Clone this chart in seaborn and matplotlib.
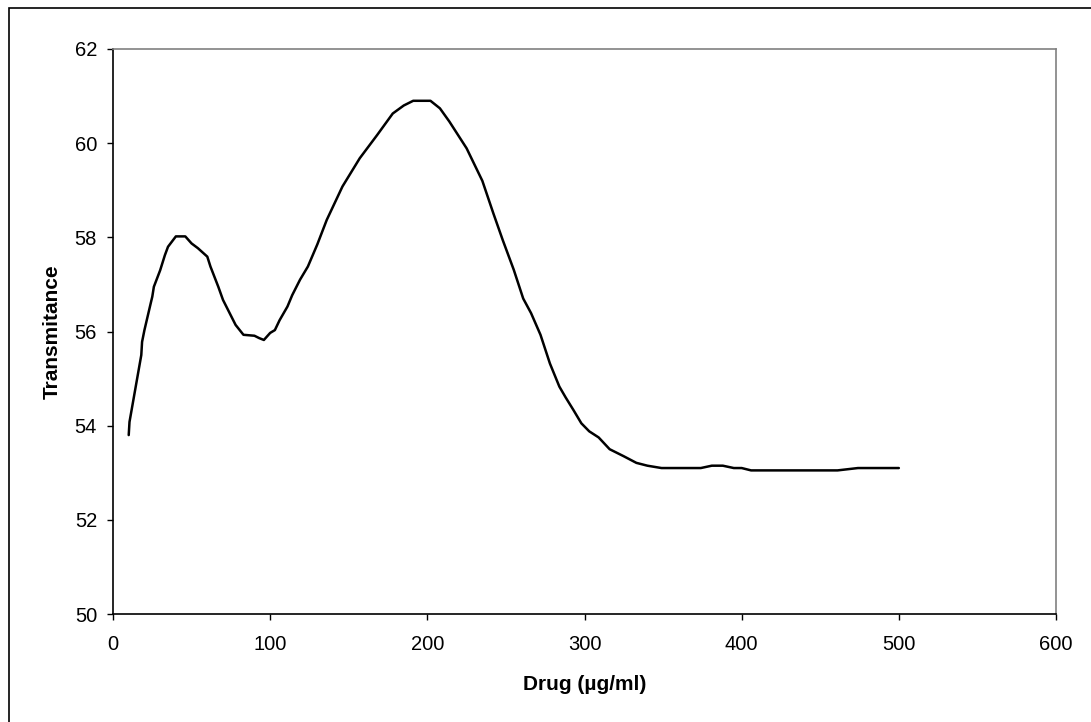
import numpy as np
import pandas as pd
import seaborn as sns
import matplotlib.pyplot as plt
from matplotlib.patches import Rectangle

# Values
drug = [10, 10.5, 18, 18.5, 20, 24, 25, 26, 30, 33, 35, 40, 46, 50, 54, 60,
        62, 67, 70, 78, 83, 90, 93, 96, 100, 103, 106, 111, 114, 119, 124,
        130, 136, 146, 157, 168, 178, 185, 191, 202, 208, 214, 225, 235, 242,
        248, 255, 261, 266, 272, 278, 284, 288, 293, 298, 303, 309, 316, 325,
        333, 340, 349, 374, 381, 388, 395, 400, 406, 461, 474, 500]
transmitance = [53.8, 54.08, 55.5, 55.78, 56.03, 56.6, 56.74, 56.95, 57.3,
                57.62, 57.8, 58.02, 58.02, 57.87, 57.77, 57.59, 57.38, 56.95,
                56.67, 56.14, 55.93, 55.91, 55.86, 55.82, 55.97, 56.03, 56.24,
                56.53, 56.77, 57.1, 57.38, 57.85, 58.37, 59.08, 59.68, 60.17,
                60.63, 60.8, 60.9, 60.9, 60.74, 60.46, 59.89, 59.2, 58.51,
                57.94, 57.31, 56.7, 56.39, 55.93, 55.32, 54.83, 54.6, 54.33,
                54.05, 53.88, 53.75, 53.5, 53.35, 53.21, 53.15, 53.1, 53.1,
                53.15, 53.15, 53.1, 53.1, 53.05, 53.05, 53.1, 53.1]
x_ticks = [0, 100, 200, 300, 400, 500, 600]
y_ticks = [50, 52, 54, 56, 58, 60, 62]

df = pd.DataFrame({"drug": drug, "transmitance": transmitance})

sns.set_style("white")
plt.rcParams['font.family'] = ['Liberation Sans', 'DejaVu Sans']
plt.rcParams['text.color'] = 'black'
plt.rcParams['axes.labelcolor'] = 'black'

fig = plt.figure(figsize=(10.91, 7.22), dpi=100)
ax = fig.add_axes([113 / 1091, 1 - 614 / 722, (1056 - 113) / 1091, (614 - 49) / 722])

sns.lineplot(data=df, x="drug", y="transmitance", color="black",
             linewidth=1.8, ax=ax, sort=False)

ax.set_xlim(0, 600)
ax.set_ylim(50, 62)
ax.set_xticks(x_ticks)
ax.set_yticks(y_ticks)
ax.tick_params(axis="both", direction="out", length=4.5, width=1, color="black",
               labelcolor="black", labelsize=14.5, left=True, bottom=True)
ax.tick_params(axis="x", pad=10.5)
ax.tick_params(axis="y", pad=7)

ax.spines["left"].set_color("black")
ax.spines["bottom"].set_color("black")
ax.spines["top"].set_color("#808080")
ax.spines["right"].set_color("#808080")
for s in ax.spines.values():
    s.set_linewidth(1.2)

ax.set_xlabel("Drug (µg/ml)", fontsize=15, fontweight="bold", labelpad=15)
ax.set_ylabel("Transmitance", fontsize=15, fontweight="bold", labelpad=9.5)

# outer chart frame
fig.patches.append(Rectangle((9 / 1091, -0.05), 1.2, 1 - 8 / 722 + 0.05,
                             transform=fig.transFigure, fill=False,
                             edgecolor="black", linewidth=1.2))

fig.savefig("out.png", dpi=100)
